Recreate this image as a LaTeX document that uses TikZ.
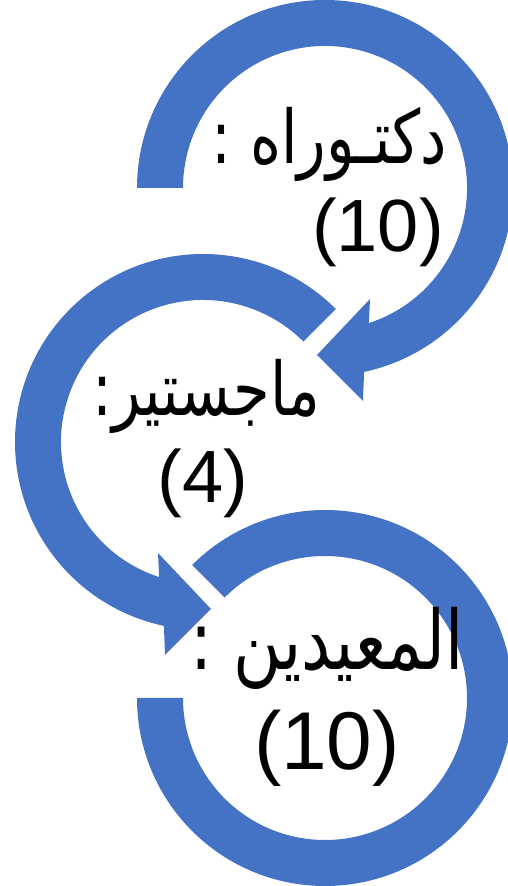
\documentclass[tikz,border=0pt]{standalone}
\usepackage{fontspec}
\setmainfont{Liberation Sans}
\newfontfamily\arabicfont[Script=Arabic, FakeStretch=0.8]{DejaVu Sans}
\TeXXeTstate=1
\usepackage{xcolor}
\usepackage{tikz}
\definecolor{ringblue}{HTML}{4472C4}

\begin{document}
\begin{tikzpicture}[x=1pt, y=1pt,
    ring/.style={fill=ringblue},
    entry/.style={font=\fontsize{74}{80}\selectfont, inner sep=0pt, anchor=base},
    bigentry/.style={entry, font=\fontsize{82}{90}\selectfont}]
    \useasboundingbox (0,0) rectangle (507,886);

    % Top ring, arrow turning down-left
    \begin{scope}[shift={(325,698)}]
        \fill[ring] (180:188) arc[start angle=180, end angle=-78, radius=188]
            -- (38,-213) -- (-8,-167) -- (45,-111)
            -- (-72:142) arc[start angle=-72, end angle=180, radius=142] -- cycle;
    \end{scope}

    % Middle ring, arrow turning down-right
    \begin{scope}[shift={(203,444)}]
        \fill[ring] (45:188) arc[start angle=45, end angle=258, radius=188]
            -- (-38,-213) -- (8,-167) -- (-45,-111)
            -- (252:142) arc[start angle=252, end angle=45, radius=142] -- cycle;
    \end{scope}

    % Bottom ring, no arrow
    \begin{scope}[shift={(325,188)}]
        \fill[ring] (180:188) arc[start angle=180, end angle=495, radius=188]
            -- (135:142) arc[start angle=495, end angle=180, radius=142] -- cycle;
    \end{scope}

    % Texts
    \node[entry] (phd) at (329,722) {\arabicfont\beginR دكتـوراه :\endR};
    \node[entry] (phdnum) at (378,634) {(10)};
    \node[entry] (msc) at (206,470) {\arabicfont\beginR ماجستير:\endR};
    \node[entry] (mscnum) at (203,383) {(4)};
    \node[bigentry] (ta) at (327,216) {\arabicfont\beginR المعيدين :\endR};
    \node[bigentry] (tanum) at (327,116) {(10)};
\end{tikzpicture}
\end{document}
